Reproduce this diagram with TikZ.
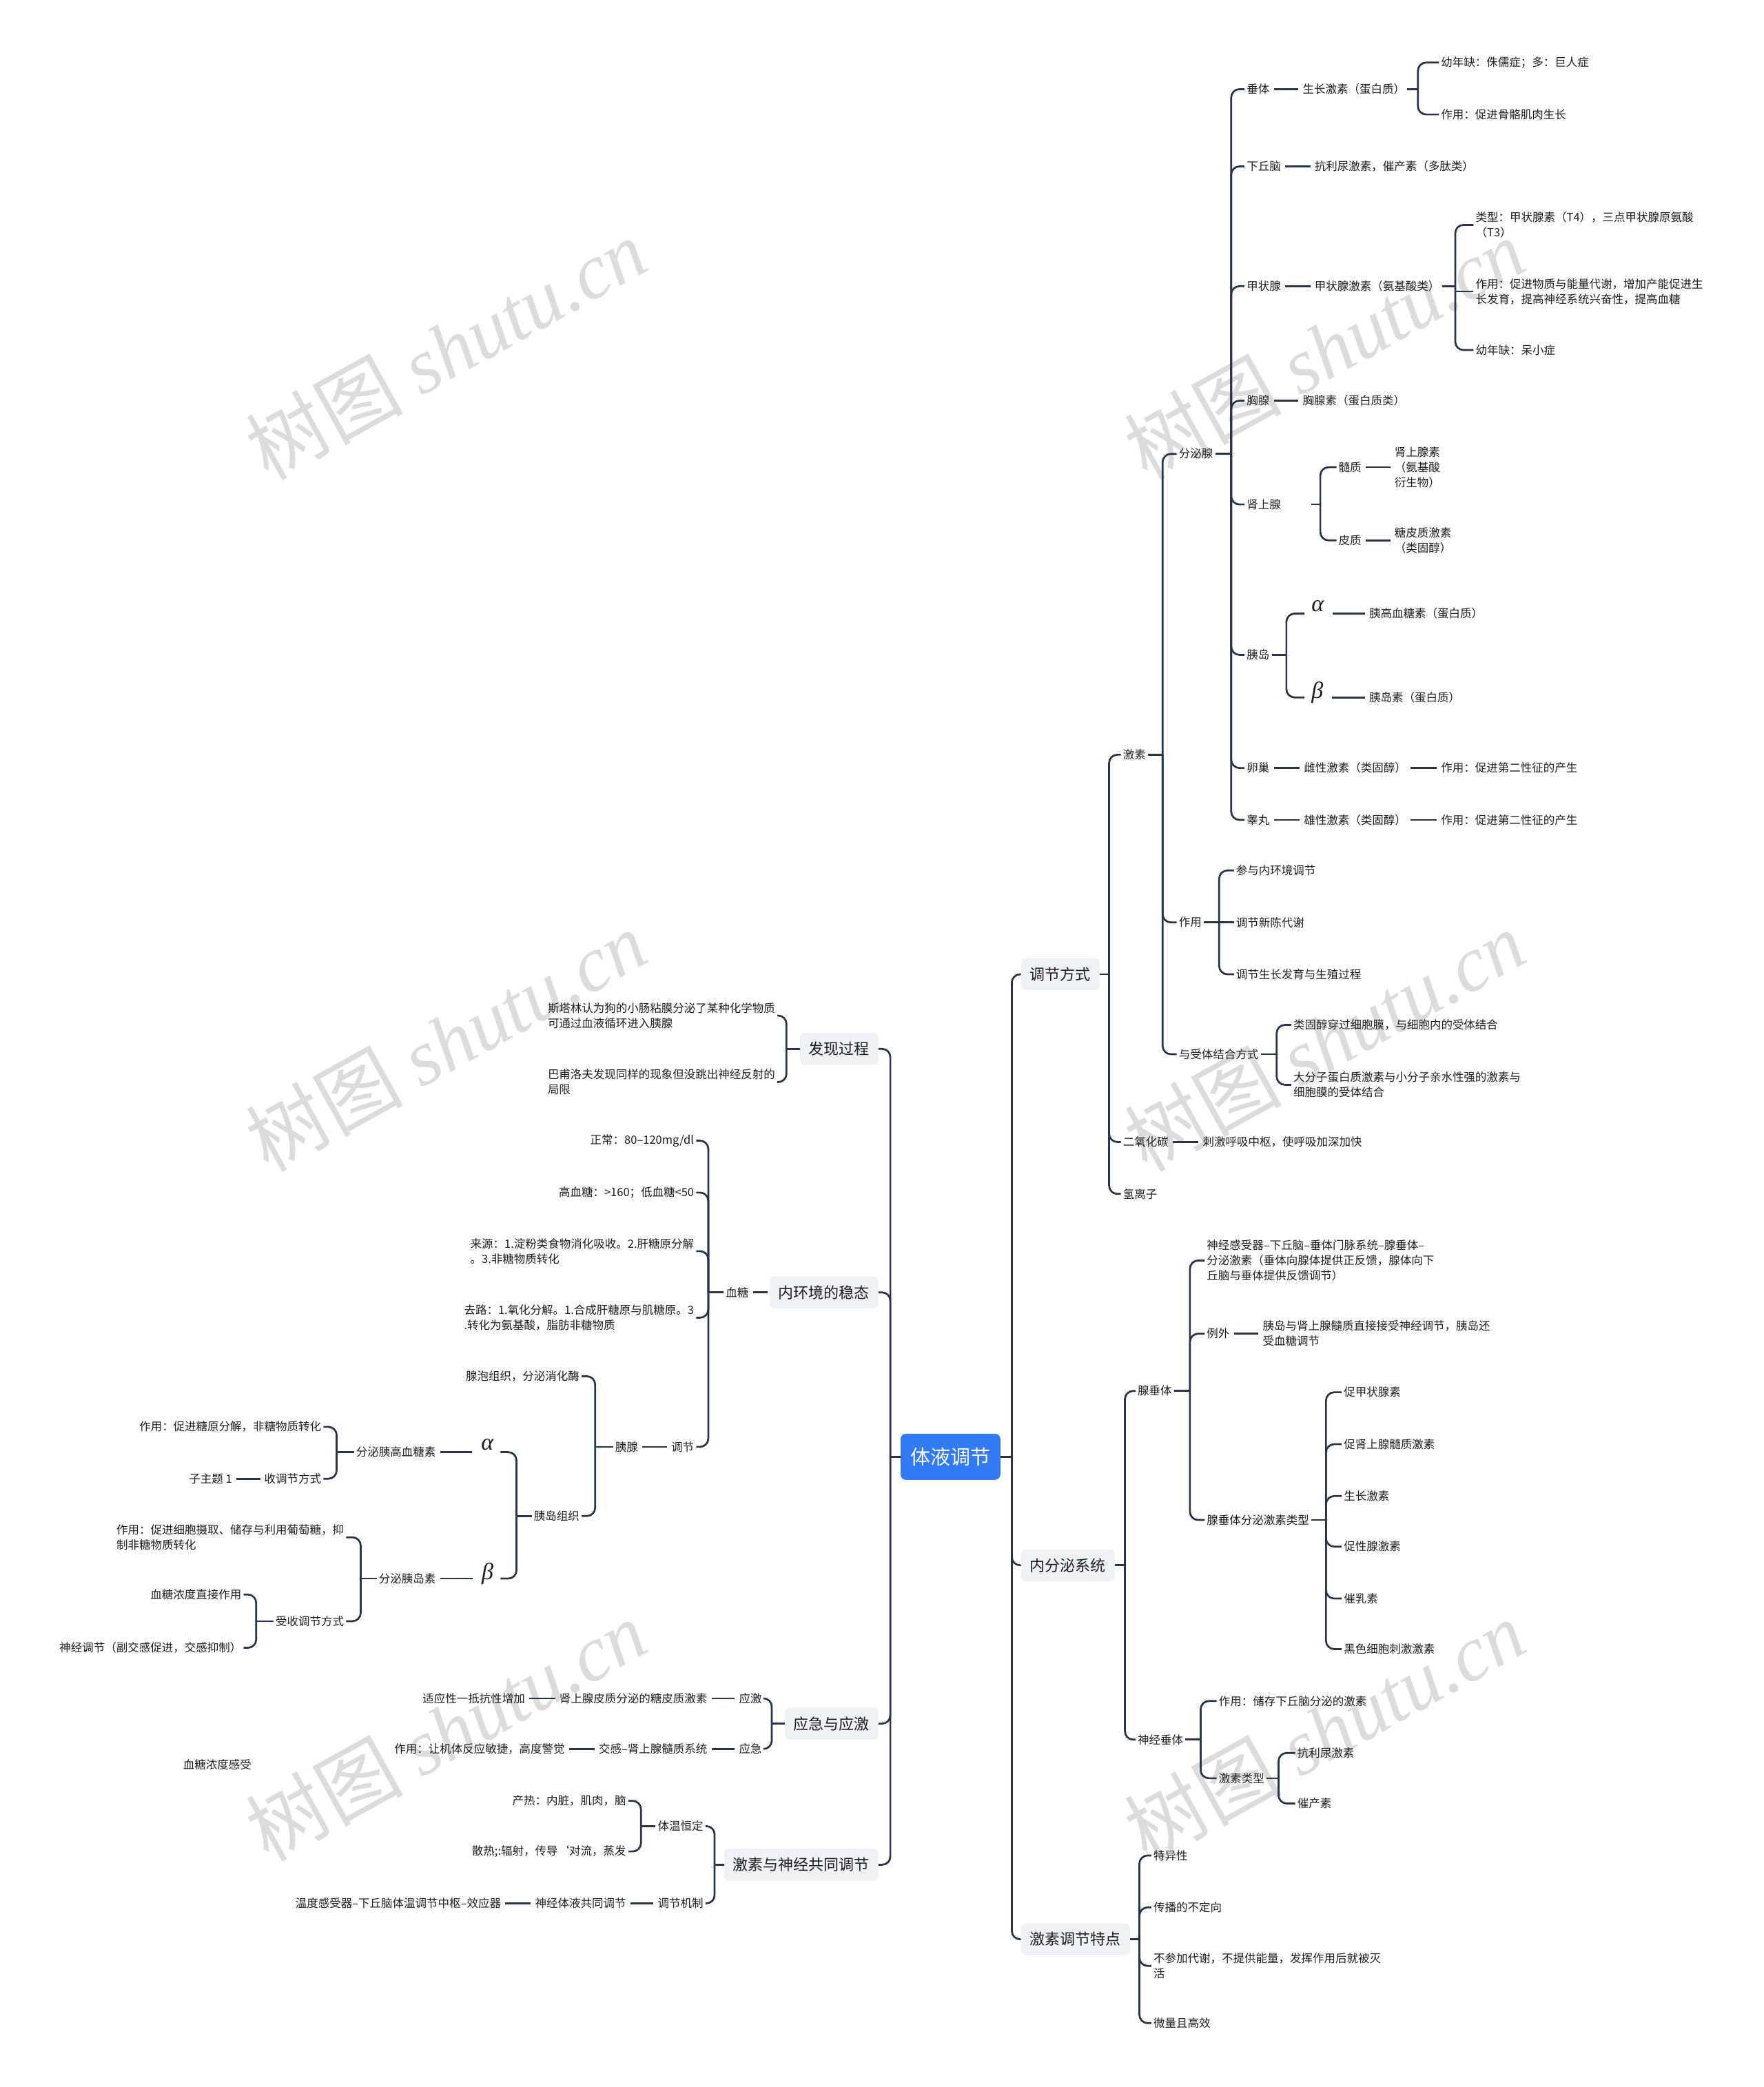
\documentclass[tikz,border=0pt]{standalone}
\usepackage{fontspec}
\setmainfont{Noto Sans CJK SC}
\newfontfamily\wmlat{Liberation Serif}
\definecolor{lnc}{HTML}{27344A}
\definecolor{rootc}{HTML}{327AF6}
\definecolor{lonec}{HTML}{EEF1F5}
\definecolor{txc}{HTML}{1E1E1E}
\definecolor{wmc}{HTML}{DCDCDC}
\tikzset{
 base/.style={inner xsep=3pt, inner ysep=2pt, font=\fontsize{16.5}{22}\selectfont, text=txc, align=left},
 R/.style={base, anchor=west},
 L/.style={base, anchor=east},
 lvlone/.style={fill=lonec, rounded corners=7pt, minimum height=46pt, inner xsep=13pt, font=\fontsize{22}{26}\selectfont, text=txc},
 loneR/.style={lvlone, anchor=west},
 loneL/.style={lvlone, anchor=east},
 rootn/.style={fill=rootc, rounded corners=8pt, text=white, minimum width=145pt, minimum height=67pt, inner sep=0pt, font=\fontsize{29}{32}\selectfont},
 conn/.style={draw=lnc, line width=2.7pt},
 greekR/.style={base, anchor=west, inner xsep=10pt, font=\fontsize{34}{34}\selectfont\wmlat\itshape, text depth=22pt},
 greekL/.style={base, anchor=east, inner xsep=10pt, font=\fontsize{34}{34}\selectfont\wmlat\itshape, text depth=22pt},
 wm/.style={rotate=29, text=wmc, inner sep=0pt, font=\fontsize{114}{114}\selectfont},
}
\newcommand\brR[3]{\draw[conn] (#1.east) -- ++(#2,0); \draw[conn,rounded corners=12pt] (#1.east) ++(#2,0) |- (#3.west);}
\newcommand\brRm[3]{\draw[conn] (#1.east) -- ++(#2,0) |- (#3.west);}
\newcommand\brL[3]{\draw[conn] (#1.west) -- ++(-#2,0); \draw[conn,rounded corners=12pt] (#1.west) ++(-#2,0) |- (#3.east);}
\newcommand\lnR[2]{\draw[conn, shorten <=3pt, shorten >=3pt] (#1.east) -- (#2.west);}
\newcommand\lnL[2]{\draw[conn, shorten <=3pt, shorten >=3pt] (#1.west) -- (#2.east);}
\begin{document}
\begin{tikzpicture}[x=1.932pt,y=-1.932pt]
\useasboundingbox (0,0) rectangle (1325,1568);
\fill[white] (0,0) rectangle (1325,1568);
% watermarks
\foreach \cx/\cy/\nm in {335/262/wa,995/262/wb,335/782/wc,995/782/wd,335/1300/we,995/1300/wf}
  \node[wm] (\nm) at (\cx,\cy) {树图 {\wmlat\itshape shutu.cn}};

% root and level one
\node[rootn] (root) at (714,1094.5) {体液调节};
\node[loneR] (tjfs) at (767,732) {调节方式};
\node[loneR] (nfm) at (767,1176) {内分泌系统};
\node[loneR] (jstd) at (767,1457) {激素调节特点};
\node[loneL] (fxgc) at (660,788) {发现过程};
\node[loneL] (nhj) at (660,971) {内环境的稳态};
\node[loneL] (yjyj) at (660,1295) {应急与应激};
\node[loneL] (jsyj) at (660,1401) {激素与神经共同调节};

% ---------- right: 调节方式
\node[R] (js) at (842,567) {激素};
\node[R] (co2) at (842,858) {二氧化碳};
\node[R] (hion) at (842,897) {氢离子};
\node[R] (fmx) at (884,341) {分泌腺};
\node[R] (zy1) at (884,693) {作用};
\node[R] (ytjh) at (884,792) {与受体结合方式};
\node[R] (ct) at (935,67) {垂体};
\node[R] (xqn) at (935,125) {下丘脑};
\node[R] (jzx) at (935,215) {甲状腺};
\node[R] (xx) at (935,301) {胸腺};
\node[R,text width=90pt] (ssx) at (935,379) {肾上腺};
\node[R] (yd) at (935,492) {胰岛};
\node[R] (lc) at (935,577) {卵巢};
\node[R] (gw) at (935,616) {睾丸};
\node[R] (szjs) at (977,67) {生长激素（蛋白质）};
\node[R] (ynqa) at (1081,47) {幼年缺：侏儒症；多：巨人症};
\node[R] (zyg) at (1081,86) {作用：促进骨骼肌肉生长};
\node[R] (klnjs) at (986,125) {抗利尿激素，催产素（多肽类）};
\node[R] (jzxjs) at (986,215) {甲状腺激素（氨基酸类）};
\node[R] (lx) at (1107,169) {类型：甲状腺素（T4），三点甲状腺原氨酸\\（T3）};
\node[R] (jzxzy) at (1107,219) {作用：促进物质与能量代谢，增加产能促进生\\长发育，提高神经系统兴奋性，提高血糖};
\node[R] (ynqb) at (1107,263) {幼年缺：呆小症};
\node[R] (xxs) at (977,301) {胸腺素（蛋白质类）};
\node[R] (sz) at (1004,351) {髓质};
\node[R] (pz) at (1004,406) {皮质};
\node[R] (ssxs) at (1046,351) {肾上腺素\\（氨基酸\\衍生物）};
\node[R] (tpz) at (1046,406) {糖皮质激素\\（类固醇）};
\node[greekR] (alR) at (980,461) {α};
\node[greekR] (beR) at (980,524) {β};
\node[R] (ygxts) at (1027,461) {胰高血糖素（蛋白质）};
\node[R] (yds) at (1027,524) {胰岛素（蛋白质）};
\node[R] (cxjs) at (978,577) {雌性激素（类固醇）};
\node[R] (cxzy) at (1081,577) {作用：促进第二性征的产生};
\node[R] (xxjs) at (978,616) {雄性激素（类固醇）};
\node[R] (xxzy) at (1081,616) {作用：促进第二性征的产生};
\node[R] (cy) at (927,654) {参与内环境调节};
\node[R] (tjxc) at (927,693) {调节新陈代谢};
\node[R] (tjsz) at (927,732) {调节生长发育与生殖过程};
\node[R] (lgc) at (970,770) {类固醇穿过细胞膜，与细胞内的受体结合};
\node[R] (dfz) at (970,815) {大分子蛋白质激素与小分子亲水性强的激素与\\细胞膜的受体结合};
\node[R] (cjhx) at (902,858) {刺激呼吸中枢，使呼吸加深加快};

% ---------- right: 内分泌系统
\node[R] (xct) at (853,1045) {腺垂体};
\node[R] (sjct) at (853,1307) {神经垂体};
\node[R] (sjgsq) at (905,947) {神经感受器–下丘脑–垂体门脉系统–腺垂体–\\分泌激素（垂体向腺体提供正反馈，腺体向下\\丘脑与垂体提供反馈调节）};
\node[R] (lw) at (905,1002) {例外};
\node[R] (ydyssx) at (947,1002) {胰岛与肾上腺髓质直接接受神经调节，胰岛还\\受血糖调节};
\node[R] (xctlx) at (905,1142) {腺垂体分泌激素类型};
\node[R] (ca) at (1008,1046) {促甲状腺素};
\node[R] (cb) at (1008,1085) {促肾上腺髓质激素};
\node[R] (cc) at (1008,1124) {生长激素};
\node[R] (cd) at (1008,1162) {促性腺激素};
\node[R] (ce) at (1008,1201) {催乳素};
\node[R] (cf) at (1008,1239) {黑色细胞刺激激素};
\node[R] (sjzy) at (914,1278) {作用：储存下丘脑分泌的激素};
\node[R] (jslx) at (914,1336) {激素类型};
\node[R] (klnjsb) at (973,1317) {抗利尿激素};
\node[R] (ccs) at (973,1355) {催产素};

% ---------- right: 激素调节特点
\node[R] (tyx) at (865,1394) {特异性};
\node[R] (cbd) at (865,1433) {传播的不定向};
\node[R] (bcj) at (865,1477) {不参加代谢，不提供能量，发挥作用后就被灭\\活};
\node[R] (wl) at (865,1520) {微量且高效};

% ---------- left
\node[L] (stl) at (584,763) {斯塔林认为狗的小肠粘膜分泌了某种化学物质\\可通过血液循环进入胰腺};
\node[L] (bfl) at (584,813) {巴甫洛夫发现同样的现象但没跳出神经反射的\\局限};
\node[L] (xt) at (564,971) {血糖};
\node[L] (zc) at (523,857) {正常：80–120mg/dl};
\node[L] (gxt) at (523,896) {高血糖：>160；低血糖<50};
\node[L] (ly) at (523,940) {来源：1.淀粉类食物消化吸收。2.肝糖原分解\\。3.非糖物质转化};
\node[L] (ql) at (523,990) {去路：1.氧化分解。1.合成肝糖原与肌糖原。3\\.转化为氨基酸，脂肪非糖物质};
\node[L] (tj) at (523,1087) {调节};
\node[L] (yx) at (481,1087) {胰腺};
\node[L] (xpzz) at (437,1034) {腺泡组织，分泌消化酶};
\node[L] (ydzz) at (437,1139) {胰岛组织};
\node[greekL] (alL) at (376,1091) {α};
\node[greekL] (beL) at (376,1186) {β};
\node[L] (fmygx) at (329,1091) {分泌胰高血糖素};
\node[L] (zyb) at (243,1072) {作用：促进糖原分解，非糖物质转化};
\node[L] (stjfs) at (243,1111) {收调节方式};
\node[L] (zzt) at (176,1111) {子主题 1};
\node[L] (fmyds) at (329,1186) {分泌胰岛素};
\node[L] (zyc) at (260,1155) {作用：促进细胞摄取、储存与利用葡萄糖，抑\\制非糖物质转化};
\node[L] (sstj) at (260,1218) {受收调节方式};
\node[L] (xtnd) at (183,1198) {血糖浓度直接作用};
\node[L] (sjtj) at (183,1238) {神经调节（副交感促进，交感抑制）};
\node[R] (xtgs) at (136,1326) {血糖浓度感受};
\node[L] (yja) at (574,1276) {应激};
\node[L] (yjb) at (574,1314) {应急};
\node[L] (sspz) at (533,1276) {肾上腺皮质分泌的糖皮质激素};
\node[L] (syx) at (396,1276) {适应性一抵抗性增加};
\node[L] (jg) at (533,1314) {交感–肾上腺髓质系统};
\node[L] (zyd) at (426,1314) {作用：让机体反应敏捷，高度警觉};
\node[L] (twhd) at (530,1372) {体温恒定};
\node[L] (tjjz) at (530,1430) {调节机制};
\node[L] (cr) at (472,1353) {产热：内脏，肌肉，脑};
\node[L] (sr) at (472,1391) {散热;:辐射，传导‘对流，蒸发};
\node[L] (sjty) at (472,1430) {神经体液共同调节};
\node[L] (wdgs) at (378,1430) {温度感受器–下丘脑体温调节中枢–效应器};

% ---------- connectors
\brR{root}{8.5}{tjfs} \brR{root}{8.5}{nfm} \brR{root}{8.5}{jstd}
\brL{root}{7.5}{fxgc} \brL{root}{7.5}{nhj} \brL{root}{7.5}{yjyj} \brL{root}{7.5}{jsyj}

\brR{tjfs}{7}{js} \brR{tjfs}{7}{co2} \brR{tjfs}{7}{hion}
\brR{js}{11}{fmx} \brR{js}{11}{zy1} \brR{js}{11}{ytjh}
\brR{fmx}{12}{ct} \brR{fmx}{12}{xqn} \brR{fmx}{12}{jzx} \brR{fmx}{12}{xx}
\brR{fmx}{12}{ssx} \brR{fmx}{12}{yd} \brR{fmx}{12}{lc} \brR{fmx}{12}{gw}
\lnR{ct}{szjs}
\brR{szjs}{8}{ynqa} \brR{szjs}{8}{zyg}
\lnR{xqn}{klnjs}
\lnR{jzx}{jzxjs}
\brR{jzxjs}{10}{lx} \brRm{jzxjs}{10}{jzxzy} \brR{jzxjs}{10}{ynqb}
\lnR{xx}{xxs}
\brR{ssx}{7}{sz} \brR{ssx}{7}{pz}
\lnR{sz}{ssxs} \lnR{pz}{tpz}
\brR{yd}{11}{alR} \brR{yd}{11}{beR}
\lnR{alR}{ygxts} \lnR{beR}{yds}
\lnR{lc}{cxjs} \lnR{cxjs}{cxzy}
\lnR{gw}{xxjs} \lnR{xxjs}{xxzy}
\brR{zy1}{11.5}{cy} \brRm{zy1}{11.5}{tjxc} \brR{zy1}{11.5}{tjsz}
\brR{ytjh}{12}{lgc} \brR{ytjh}{12}{dfz}
\lnR{co2}{cjhx}

\brR{nfm}{7.5}{xct} \brR{nfm}{7.5}{sjct}
\brR{xct}{12}{sjgsq} \brR{xct}{12}{lw} \brR{xct}{12}{xctlx}
\lnR{lw}{ydyssx}
\brR{xctlx}{11}{ca} \brR{xctlx}{11}{cb} \brR{xctlx}{11}{cc}
\brR{xctlx}{11}{cd} \brR{xctlx}{11}{ce} \brR{xctlx}{11}{cf}
\brR{sjct}{11.5}{sjzy} \brR{sjct}{11.5}{jslx}
\brR{jslx}{9}{klnjsb} \brR{jslx}{9}{ccs}
\brR{jstd}{7}{tyx} \brR{jstd}{7}{cbd} \brR{jstd}{7}{bcj} \brR{jstd}{7}{wl}

\brL{fxgc}{10}{stl} \brL{fxgc}{10}{bfl}
\lnL{nhj}{xt}
\brL{xt}{11.5}{zc} \brL{xt}{11.5}{gxt} \brL{xt}{11.5}{ly} \brL{xt}{11.5}{ql} \brL{xt}{11.5}{tj}
\lnL{tj}{yx}
\brL{yx}{13.5}{xpzz} \brL{yx}{13.5}{ydzz}
\brL{ydzz}{11.5}{alL} \brL{ydzz}{11.5}{beL}
\lnL{alL}{fmygx} \lnL{beL}{fmyds}
\brL{fmygx}{13}{zyb} \brL{fmygx}{13}{stjfs}
\lnL{stjfs}{zzt}
\brL{fmyds}{12}{zyc} \brL{fmyds}{12}{sstj}
\brL{sstj}{13}{xtnd} \brL{sstj}{13}{sjtj}
\brL{yjyj}{9.6}{yja} \brL{yjyj}{9.6}{yjb}
\lnL{yja}{sspz} \lnL{sspz}{syx}
\lnL{yjb}{jg} \lnL{jg}{zyd}
\brL{jsyj}{7}{twhd} \brL{jsyj}{7}{tjjz}
\brL{twhd}{11}{cr} \brL{twhd}{11}{sr}
\lnL{tjjz}{sjty} \lnL{sjty}{wdgs}
\end{tikzpicture}
\end{document}
